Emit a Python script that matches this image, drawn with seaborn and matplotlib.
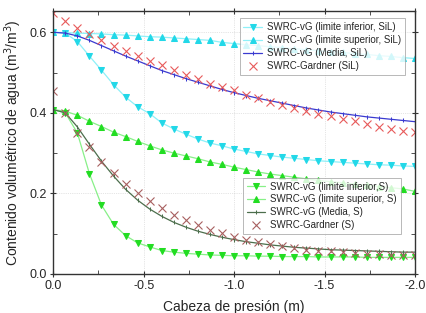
import numpy as np
import pandas as pd
import matplotlib
matplotlib.use("Agg")
import matplotlib.pyplot as plt
import seaborn as sns
from matplotlib.ticker import MultipleLocator

# presion (m), paso de 1/15 m de 0 a -2
h = [-i * 2 / 30 for i in range(31)]

sil_inf = [0.600, 0.598, 0.577, 0.541, 0.506, 0.470, 0.439, 0.415, 0.398, 0.375,
           0.360, 0.347, 0.335, 0.325, 0.318, 0.310, 0.304, 0.298, 0.294, 0.290,
           0.287, 0.284, 0.281, 0.279, 0.277, 0.275, 0.273, 0.271, 0.270, 0.268, 0.267]
sil_sup = [0.600, 0.599, 0.598, 0.597, 0.596, 0.594, 0.593, 0.591, 0.589, 0.588,
           0.586, 0.584, 0.582, 0.580, 0.575, 0.572, 0.569, 0.567, 0.564, 0.562,
           0.559, 0.557, 0.554, 0.552, 0.550, 0.547, 0.545, 0.542, 0.540, 0.537, 0.535]
sil_med = [0.600, 0.598, 0.591, 0.580, 0.567, 0.554, 0.541, 0.529, 0.517, 0.505,
           0.495, 0.485, 0.476, 0.467, 0.458, 0.450, 0.443, 0.436, 0.430, 0.424,
           0.418, 0.412, 0.407, 0.402, 0.398, 0.394, 0.390, 0.387, 0.384, 0.381, 0.378]
sil_gard = [0.647, 0.627, 0.610, 0.596, 0.580, 0.567, 0.554, 0.542, 0.529, 0.518,
            0.506, 0.495, 0.484, 0.472, 0.464, 0.456, 0.445, 0.437, 0.428, 0.420,
            0.412, 0.405, 0.398, 0.391, 0.385, 0.379, 0.373, 0.366, 0.361, 0.356, 0.352]

s_inf = [0.408, 0.400, 0.350, 0.249, 0.171, 0.123, 0.095, 0.077, 0.067, 0.058,
         0.054, 0.051, 0.049, 0.047, 0.046, 0.045, 0.045, 0.044, 0.044, 0.043,
         0.043, 0.043, 0.042, 0.042, 0.042, 0.042, 0.041, 0.041, 0.041, 0.041, 0.041]
s_sup = [0.408, 0.404, 0.394, 0.379, 0.366, 0.352, 0.341, 0.329, 0.318, 0.308,
         0.300, 0.293, 0.286, 0.278, 0.272, 0.265, 0.259, 0.253, 0.248, 0.244,
         0.240, 0.236, 0.232, 0.229, 0.226, 0.223, 0.220, 0.217, 0.214, 0.211, 0.205]
s_med = [0.408, 0.400, 0.365, 0.322, 0.280, 0.243, 0.210, 0.183, 0.161, 0.143,
         0.128, 0.116, 0.106, 0.098, 0.091, 0.085, 0.080, 0.076, 0.072, 0.069,
         0.066, 0.064, 0.062, 0.060, 0.059, 0.058, 0.057, 0.056, 0.055, 0.054, 0.054]
s_gard = [0.453, 0.399, 0.350, 0.314, 0.279, 0.251, 0.222, 0.201, 0.180, 0.164,
          0.147, 0.135, 0.122, 0.110, 0.101, 0.092, 0.085, 0.079, 0.074, 0.068,
          0.064, 0.060, 0.058, 0.056, 0.054, 0.052, 0.050, 0.049, 0.048, 0.047, 0.046]

sns.set_style("white")
plt.rcParams['font.family'] = ['Liberation Sans', 'DejaVu Sans']

fig = plt.figure(figsize=(4.26, 3.13), dpi=100)
ax = fig.add_axes([0.125, 0.125, 0.849, 0.84])

cyan = '#22d8e8'
cyan_l = '#8ef0f8'
blue = '#3a3ad0'
red = '#e85a5a'
green = '#22dd22'
green_l = '#88f088'
dkgreen = '#4c6e4c'
brown = '#a86060'

# SiL
sns.lineplot(x=h, y=sil_inf, ax=ax, color=cyan_l, lw=0.9, marker='v', ms=4,
             mfc=cyan, mec=cyan, label='SWRC-vG (limite inferior, SiL)')
sns.lineplot(x=h, y=sil_sup, ax=ax, color=cyan_l, lw=0.9, marker='^', ms=4,
             mfc=cyan, mec=cyan, label='SWRC-vG (limite superior, SiL)')
sns.lineplot(x=h, y=sil_med, ax=ax, color=blue, lw=0.9, marker='|', ms=3,
             mec=blue, label='SWRC-vG (Media, SiL)')
sns.lineplot(x=h, y=sil_gard, ax=ax, color=red, lw=0, marker='x', ms=5.5,
             mew=0.8, mec=red, label='SWRC-Gardner (SiL)')

# S
sns.lineplot(x=h, y=s_inf, ax=ax, color=green_l, lw=0.9, marker='v', ms=4,
             mfc=green, mec=green, label='SWRC-vG (limite inferior,S)')
sns.lineplot(x=h, y=s_sup, ax=ax, color=green_l, lw=0.9, marker='^', ms=4,
             mfc=green, mec=green, label='SWRC-vG (limite superior, S)')
sns.lineplot(x=h, y=s_med, ax=ax, color=dkgreen, lw=0.9, marker='|', ms=3,
             mec=dkgreen, label='SWRC-vG (Media, S)')
sns.lineplot(x=h, y=s_gard, ax=ax, color=brown, lw=0, marker='x', ms=5.5,
             mew=0.8, mec=brown, label='SWRC-Gardner (S)')

handles, labels = ax.get_legend_handles_labels()
if ax.get_legend():
    ax.get_legend().remove()

leg_kw = dict(loc='upper right', fontsize=7, frameon=True, fancybox=False,
              edgecolor='#999999', borderpad=0.4, labelspacing=0.3,
              handlelength=1.9, handletextpad=0.5, borderaxespad=0)
leg1 = ax.legend(handles[:4], labels[:4], bbox_to_anchor=(0.972, 0.972), **leg_kw)
leg1.get_frame().set_linewidth(0.6)
ax.add_artist(leg1)
leg2 = ax.legend(handles[4:], labels[4:], bbox_to_anchor=(0.961, 0.366), **leg_kw)
leg2.get_frame().set_linewidth(0.6)

ax.set_xlim(0, -2.0)
ax.set_ylim(0, 0.653)
ax.xaxis.set_minor_locator(MultipleLocator(0.25))
ax.yaxis.set_minor_locator(MultipleLocator(0.1))
ax.set_xticks([0, -0.5, -1.0, -1.5, -2.0])
ax.set_xticklabels(['0.0', '-0.5', '-1.0', '-1.5', '-2.0'])
ax.set_yticks([0.0, 0.2, 0.4, 0.6])
ax.set_yticklabels(['0.0', '0.2', '0.4', '0.6'])

ax.tick_params(which='major', direction='inout', length=5, width=0.8, labelsize=9,
               top=True, right=True, bottom=True, left=True, color='#333333', pad=2)
ax.tick_params(which='minor', direction='in', length=3, width=0.6,
               top=True, right=True, bottom=True, left=True, color='#333333')
ax.grid(True, which='major', ls=':', lw=0.5, color='#cccccc')
for s in ax.spines.values():
    s.set_color('#333333')
    s.set_linewidth(1.0)

ax.set_xlabel('Cabeza de presión (m)', fontsize=10, labelpad=6)
ax.set_ylabel('Contenido volumétrico de agua (m$^3$/m$^3$)', fontsize=10, labelpad=4)

fig.savefig('out.png', dpi=100)
